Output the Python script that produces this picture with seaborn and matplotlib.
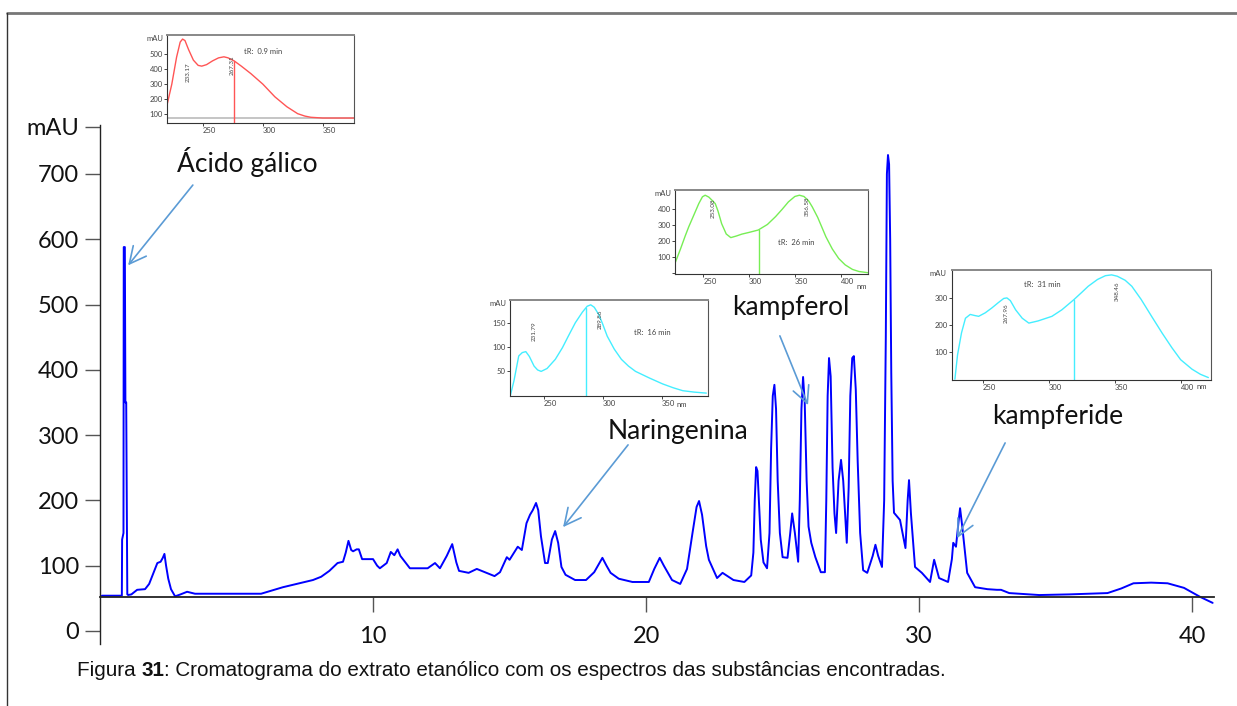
import matplotlib
matplotlib.use("Agg")
import matplotlib.pyplot as plt
from matplotlib.lines import Line2D
import seaborn as sns
import pandas as pd

# chromatogram (time in min, absorbance in mAU)
time_min = [0.07, 0.80, 0.81, 0.86, 0.87, 0.91, 0.93, 0.96, 1.00, 1.03, 1.15, 1.36, 1.65, 1.80, 1.95,
            2.10, 2.22, 2.30, 2.36, 2.42, 2.50, 2.60, 2.75, 2.95, 3.19, 3.48, 4.50, 5.90, 6.30, 6.70,
            7.10, 7.50, 7.80, 8.10, 8.40, 8.70, 8.90, 9.00, 9.10, 9.20, 9.27, 9.40, 9.48, 9.60, 10.0,
            10.15, 10.25, 10.50, 10.65, 10.78, 10.90, 11.00, 11.35, 12.00, 12.27, 12.45, 12.70, 12.90,
            13.05, 13.15, 13.50, 13.80, 14.10, 14.45, 14.65, 14.90, 15.00, 15.30, 15.45, 15.62, 15.75,
            15.85, 15.97, 16.05, 16.15, 16.30, 16.40, 16.55, 16.67, 16.78, 16.90, 17.05, 17.40, 17.80,
            18.10, 18.40, 18.55, 18.70, 19.00, 19.50, 20.10, 20.30, 20.50, 20.65, 20.95, 21.25, 21.50,
            21.70, 21.85, 21.94, 22.05, 22.20, 22.30, 22.60, 22.80, 23.20, 23.60, 23.85, 23.93, 23.98,
            24.03, 24.08, 24.13, 24.20, 24.30, 24.43, 24.52, 24.58, 24.64, 24.70, 24.76, 24.82, 24.90,
            25.00, 25.18, 25.28, 25.35, 25.45, 25.57, 25.63, 25.69, 25.75, 25.81, 25.88, 25.95, 26.05,
            26.20, 26.40, 26.55, 26.60, 26.65, 26.70, 26.76, 26.83, 26.90, 26.96, 27.05, 27.14, 27.22,
            27.35, 27.42, 27.48, 27.55, 27.61, 27.68, 27.75, 27.84, 27.95, 28.10, 28.30, 28.40, 28.50,
            28.64, 28.72, 28.78, 28.82, 28.86, 28.90, 28.94, 28.98, 29.03, 29.08, 29.30, 29.50, 29.58,
            29.63, 29.70, 29.85, 30.10, 30.40, 30.55, 30.73, 31.06, 31.20, 31.25, 31.35, 31.45, 31.50,
            31.58, 31.76, 32.05, 32.50, 32.85, 33.00, 33.30, 34.40, 35.50, 36.90, 37.40, 37.85, 38.50,
            39.10, 39.70, 40.30, 40.75]
signal_mau = [54, 54, 140, 150, 588, 588, 350, 350, 56, 55, 56, 63, 64, 72, 88,
              104, 106, 112, 118, 100, 80, 64, 53, 56, 60, 57, 57, 57, 62, 67,
              71, 75, 78, 83, 92, 104, 106, 120, 138, 124, 122, 125, 125, 110, 110,
              100, 96, 104, 121, 116, 125, 115, 96, 96, 104, 96, 115, 133,
              105, 92, 89, 95, 90, 84, 90, 113, 109, 129, 124, 165, 178,
              185, 196, 185, 145, 104, 104, 140, 153, 135, 98, 86, 78, 78,
              90, 112, 100, 89, 80, 75, 75, 95, 112, 100, 78, 72, 95,
              150, 190, 199, 178, 130, 109, 81, 89, 78, 75, 85, 120, 200,
              251, 245, 200, 140, 105, 96, 150, 280, 360, 377, 340, 230, 150,
              113, 112, 150, 180, 150, 106, 200, 340, 389, 350, 230, 160, 135,
              113, 90, 90, 200, 360, 418, 390, 250, 180, 150, 230, 262, 230,
              135, 220, 360, 418, 421, 370, 260, 150, 93, 89, 115, 132, 115,
              98, 200, 450, 700, 729, 715, 600, 395, 230, 181, 170, 127, 200,
              231, 180, 98, 89, 75, 109, 81, 75, 110, 135, 129, 170, 188,
              160, 89, 67, 64, 63, 63, 58, 55, 56, 58, 65, 73, 74,
              73, 66, 52, 43]

y_ticks = [0, 100, 200, 300, 400, 500, 600, 700, 772]
y_tick_labels = ["0", "100", "200", "300", "400", "500", "600", "700", "mAU"]
x_ticks = [10, 20, 30, 40]

# UV spectra (nm, mAU)
galico_nm = [220, 224, 228, 231, 233, 235, 238, 242, 246, 249, 253, 258, 263, 267.5, 271, 276, 282,
             290, 300, 310, 320, 329, 335, 340, 350, 376]
galico_mau = [161, 300, 480, 580, 600, 590, 530, 460, 425, 420, 430, 455, 475, 482, 475, 455, 420,
              370, 300, 216, 150, 104, 88, 80, 75, 75]
kampferol_nm = [219, 225, 230, 234, 240, 245, 249, 252, 256, 260, 263, 266, 270, 275, 280, 286, 292,
                300, 310, 320, 329, 336, 343, 350, 355, 360, 365, 369, 375, 384, 391, 398, 405, 413,
                420, 430]
kampferol_mau = [60, 150, 230, 290, 370, 437, 480, 490, 478, 455, 437, 390, 310, 245, 222, 232, 244,
                 255, 270, 305, 355, 400, 448, 482, 490, 482, 455, 417, 350, 227, 150, 90, 50, 21,
                 8, 0]
naringenina_nm = [222, 225, 229, 232, 235, 238, 242, 245, 248, 253, 260, 266, 271, 277, 283, 287, 290,
                  293, 297, 300, 304, 310, 316, 322, 328, 340, 351, 360, 368, 378, 388]
naringenina_mau = [0, 30, 81, 88, 90, 80, 60, 52, 49, 55, 74, 98, 122, 150, 172, 184, 187,
                   182, 166, 148, 122, 95, 74, 60, 49, 35, 23, 15, 9, 6, 4]
kampferide_nm = [229, 231, 234, 237, 240.6, 244, 247, 252, 257, 262, 266, 268.4, 271, 275, 280, 285,
                 292, 302.5, 310, 319, 325, 330, 337, 343, 347.7, 352, 358, 363, 370, 378, 386, 393.4,
                 400, 408.6, 415, 421]
kampferide_mau = [0, 90, 171, 225, 239, 235, 232, 245, 263, 283, 298, 300, 290, 256, 225, 207,
                  215, 232, 256, 293, 320, 343, 368, 382, 385, 380, 365, 343, 295, 232, 170, 116,
                  72, 37, 18, 6]

sns.set_theme(style="white")
plt.rcParams["font.family"] = ["Lato", "DejaVu Sans"]

W, H = 1237, 706
fig = plt.figure(figsize=(W / 100, H / 100), dpi=100)


def rect(l, t, r, b):
    return [l / W, 1 - b / H, (r - l) / W, (b - t) / H]


# main chromatogram
ax = fig.add_axes(rect(100, 125, 1214, 644))
df = pd.DataFrame({"t": time_min, "mAU": signal_mau})
sns.lineplot(data=df, x="t", y="mAU", ax=ax, color="#0000ff", lw=1.4, sort=False, estimator=None)
ax.set_xlim(0, 40.8)
ax.set_ylim(-20, 775)
ax.set_xlabel("")
ax.set_ylabel("")
for s in ["top", "right"]:
    ax.spines[s].set_visible(False)
ax.spines["bottom"].set_position(("data", 52))
ax.spines["left"].set_color("#222222")
ax.spines["bottom"].set_color("#222222")
ax.spines["left"].set_linewidth(1.0)
ax.spines["bottom"].set_linewidth(1.3)
ax.set_yticks(y_ticks)
ax.set_yticklabels(y_tick_labels)
ax.set_xticks(x_ticks)
ax.tick_params(axis="both", direction="out", length=11, width=1.0, color="#555555",
               labelsize=17, labelcolor="#111111")
ax.tick_params(axis="x", pad=10)
ax.tick_params(axis="y", pad=4, left=True)
ax.tick_params(axis="x", bottom=True)

# annotations
arrow_col = "#5b9bd5"
ann = [
    ("Ácido gálico", (5.38, 718), (3.40, 683), (1.03, 560)),
    ("Naringenina", (21.17, 305), (19.34, 285), (16.96, 159)),
    ("kampferol", (25.31, 496), (24.90, 452), (25.93, 346)),
    ("kampferide", (35.09, 329), (33.15, 288), (31.39, 142)),
]
for label, txt, tail, head in ann:
    ax.text(txt[0], txt[1], label, fontsize=19, ha="center", va="center", color="#111111")
    ax.annotate("", xy=head, xytext=tail,
                arrowprops=dict(arrowstyle="->,head_length=0.6,head_width=0.3", color=arrow_col,
                                lw=1.2, mutation_scale=20, shrinkA=0, shrinkB=0))


def inset(box, nm, mau, color, xlim, ylim, xt, yt, ytl, vline, peaks, tr, tr_xy, nm_xy=None,
          floor=None):
    a = fig.add_axes(rect(*box))
    a.set_facecolor("white")
    sns.lineplot(x=nm, y=mau, ax=a, color=color, lw=1.0, sort=False, estimator=None)
    a.set_xlim(*xlim)
    a.set_ylim(*ylim)
    if floor is not None:
        a.axhline(floor, color="#bbbbbb", lw=1.2, zorder=1)
    vx, vy = vline
    a.plot([vx, vx], [ylim[0], vy], color=color, lw=1.0)
    for px, py, s in peaks:
        a.text(px, py, s, rotation=90, fontsize=4.5, ha="center", va="center", color="#444444")
    a.text(tr_xy[0], tr_xy[1], tr, fontsize=5.5, ha="center", va="center", color="#444444")
    a.set_xticks(xt)
    a.set_xticklabels([str(v) for v in xt], ha="left")
    a.set_yticks(yt)
    a.set_yticklabels(ytl)
    a.tick_params(axis="both", direction="out", length=2, width=0.6, labelsize=5.5,
                  labelcolor="#444444", pad=1, bottom=True, left=True)
    a.set_xlabel("")
    a.set_ylabel("")
    a.spines["left"].set_color("#333333")
    a.spines["bottom"].set_color("#333333")
    a.spines["top"].set_color("#888888")
    a.spines["right"].set_color("#555555")
    for s in a.spines.values():
        s.set_linewidth(0.8)
    a.spines["top"].set_linewidth(1.4)
    a.text(-0.02, 1.0, "mAU", transform=a.transAxes, fontsize=5.5, ha="right", va="top",
           color="#444444")
    if nm_xy is not None:
        a.text(nm_xy[0], nm_xy[1], "nm", transform=a.transAxes, fontsize=5.5, ha="left",
               va="center", color="#444444")
    return a


inset((167, 35, 354, 123), galico_nm, galico_mau, "#ff5555", (220, 376), (42, 627),
      [250, 300, 350], [100, 200, 300, 400, 500], ["100", "200", "300", "400", "500"],
      (276, 455), [(238, 380, "233.17"), (274, 427, "267.31")], "tR:  0.9 min", (300, 515),
      floor=72)
inset((675, 190, 868, 274), kampferol_nm, kampferol_mau, "#77ee55", (219, 430), (-8, 523),
      [250, 300, 350, 400], [0, 100, 200, 300, 400], ["", "100", "200", "300", "400"],
      (311, 272), [(261, 409, "253.08"), (364, 422, "356.58")], "tR:  26 min", (352, 193),
      nm_xy=(0.94, -0.15))
inset((510, 300, 708, 396), naringenina_nm, naringenina_mau, "#44eeff", (221.6, 389.4), (-2, 197),
      [250, 300, 350], [50, 100, 150], ["50", "100", "150"],
      (286.4, 181), [(242.4, 132, "231.79"), (298, 156, "289.86")], "tR:  16 min", (342, 130),
      nm_xy=(0.84, -0.09))
inset((952, 270, 1211, 380), kampferide_nm, kampferide_mau, "#44eeff", (226.8, 423), (-3, 403),
      [250, 300, 350, 400], [100, 200, 300], ["100", "200", "300"],
      (319, 293), [(268, 242, "267.96"), (352, 326, "348.46")], "tR:  31 min", (295, 348),
      nm_xy=(0.945, -0.06))

# page frame lines
fig.add_artist(Line2D([7 / W, 1], [1 - 13 / H, 1 - 13 / H], color="#777777", lw=2))
fig.add_artist(Line2D([7 / W, 7 / W], [0, 1 - 13 / H], color="#333333", lw=1))

# caption with bold number
cap_y = 1 - 670 / H
r = fig.canvas.get_renderer()
cap_size = 14.9
t1 = fig.text(77 / W, cap_y, "Figura ", fontsize=cap_size, family="Liberation Sans", va="center",
              color="#111111")
x1 = t1.get_window_extent(r).x1
t2 = fig.text(x1 / W, cap_y, "31", fontsize=cap_size, family="Liberation Sans", weight="bold",
              va="center", color="#111111")
x2 = t2.get_window_extent(r).x1
fig.text(x2 / W, cap_y, ": Cromatograma do extrato etanólico com os espectros das substâncias encontradas.",
         fontsize=cap_size, family="Liberation Sans", va="center", color="#111111")

fig.savefig("out.png", dpi=100)
